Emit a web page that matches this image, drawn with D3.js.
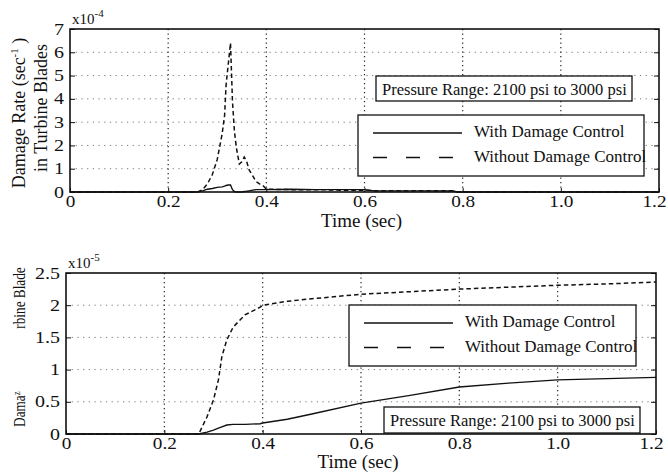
<!DOCTYPE html>
<html><head><meta charset="utf-8">
<script src="https://cdn.jsdelivr.net/npm/d3@7"></script>
<style>
body{margin:0;background:#fff}svg{display:block}
svg text{font-family:"Liberation Serif","DejaVu Serif",serif;fill:#111}
.xt text{transform-box:fill-box;transform-origin:50% 50%;transform:scaleX(1.2)}
.yt text{transform-box:fill-box;transform-origin:100% 50%;transform:scaleX(1.25)}
.narrow{transform-box:fill-box;transform-origin:50% 50%;transform:scaleX(0.78)}
</style>
</head><body>
<svg id="c" width="668" height="473"></svg>
<script>
// ---- data ----
const xTicks = [0, 0.2, 0.4, 0.6, 0.8, 1.0, 1.2];
const xTickLabels = ["0", "0.2", "0.4", "0.6", "0.8", "1.0", "1.2"];
const rateTicks = [0, 1, 2, 3, 4, 5, 6, 7];
const rateTickLabels = ["0", "1", "2", "3", "4", "5", "6", "7"];
const cumTicks = [0, 0.5, 1, 1.5, 2, 2.5];
const cumTickLabels = ["0", "0.5", "1", "1.5", "2", "2.5"];
const seriesNames = ["With Damage Control", "Without Damage Control"];

// damage rate (x1e-4 1/s)
const rateTime    = [0, 0.26, 0.27, 0.28, 0.29, 0.30, 0.31, 0.315, 0.318, 0.322, 0.327, 0.331, 0.335, 0.339, 0.345, 0.350, 0.355, 0.360, 0.365, 0.372, 0.379, 0.386, 0.392, 0.40, 0.45, 0.50, 0.55, 0.60, 0.62, 0.70, 0.78, 0.79, 1.2];
const rateWithout = [0, 0, 0.1, 0.35, 0.75, 1.4, 2.5, 3.3, 4.6, 5.4, 6.4, 3.9, 2.6, 1.9, 1.2, 1.3, 1.5, 1.3, 0.95, 0.7, 0.45, 0.35, 0.3, 0.12, 0.1, 0.1, 0.08, 0.08, 0.05, 0.05, 0.05, 0, 0];
const rateWith    = [0, 0, 0.05, 0.12, 0.15, 0.2, 0.22, 0.25, 0.28, 0.3, 0.3, 0.1, 0.02, 0, 0, 0, 0.02, 0.03, 0.05, 0.08, 0.1, 0.1, 0.1, 0.1, 0.12, 0.1, 0.1, 0.1, 0.05, 0.05, 0.04, 0, 0];

// cumulative damage (x1e-5)
const cumTime    = [0, 0.27, 0.287, 0.30, 0.31, 0.317, 0.327, 0.34, 0.364, 0.395, 0.40, 0.45, 0.50, 0.60, 0.70, 0.80, 0.90, 1.00, 1.10, 1.20];
const cumWithout = [0, 0, 0.27, 0.53, 0.84, 1.2, 1.46, 1.66, 1.85, 1.97, 2.0, 2.06, 2.1, 2.17, 2.21, 2.25, 2.28, 2.31, 2.33, 2.36];
const cumWith    = [0, 0, 0.03, 0.06, 0.09, 0.11, 0.14, 0.15, 0.15, 0.16, 0.17, 0.23, 0.31, 0.48, 0.6, 0.73, 0.79, 0.84, 0.86, 0.88];

const SERIF = "'Liberation Serif', 'DejaVu Serif', serif";
const svg = d3.select("#c");

function panel(o) {
  const x = d3.scaleLinear().domain([0, 1.2]).range([o.l, o.r]);
  const y = d3.scaleLinear().domain(o.yDom).range([o.b, o.t]);
  const g = svg.append("g");
  // grid
  g.selectAll(".hg").data(o.yTicks.slice(1, -1)).join("line")
    .attr("x1", o.l).attr("x2", o.r).attr("y1", d => y(d)).attr("y2", d => y(d))
    .attr("stroke", "#777").attr("stroke-width", 1).attr("stroke-dasharray", "1.2,4.5");
  g.selectAll(".vg").data(xTicks.slice(1, -1)).join("line")
    .attr("x1", d => x(d)).attr("x2", d => x(d)).attr("y1", o.t).attr("y2", o.b)
    .attr("stroke", "#222").attr("stroke-width", 1.2).attr("stroke-dasharray", "1.3,3.2");
  // series
  const lineGen = (ys) => d3.line().x((d, i) => x(o.time[i])).y(d => y(d))(ys);
  g.append("path").attr("d", lineGen(o.without)).attr("fill", "none")
    .attr("stroke", "#111").attr("stroke-width", 1.5).attr("stroke-dasharray", "4.5,3");
  g.append("path").attr("d", lineGen(o.with)).attr("fill", "none")
    .attr("stroke", "#111").attr("stroke-width", 1.4);
  // axes
  const ax = g.append("g").attr("class", "xt").attr("transform", `translate(0,${o.b})`)
    .call(d3.axisBottom(x).tickValues(xTicks).tickFormat((d, i) => xTickLabels[i]).tickSize(-4).tickPadding(4));
  ax.attr("font-family", SERIF).attr("font-size", 16);
  ax.select(".domain").remove();
  ax.selectAll("text").attr("y", 15).attr("dy", null)
    .attr("x", (d, i) => i === xTicks.length - 1 ? -5 : 0);
  ax.selectAll("line").attr("stroke", "#111");
  const ay = g.append("g").attr("class", "yt").attr("transform", `translate(${o.l},0)`)
    .call(d3.axisLeft(y).tickValues(o.yTicks).tickFormat((d, i) => o.yLabels[i]).tickSize(-5).tickPadding(6));
  ay.attr("font-family", SERIF).attr("font-size", 16);
  ay.select(".domain").remove();
  ay.selectAll("line").attr("stroke", "#111");
  const ar = g.append("g").attr("transform", `translate(${o.r},0)`)
    .call(d3.axisRight(y).tickValues(o.yTicks).tickFormat("").tickSize(-5));
  ar.select(".domain").remove();
  ar.selectAll("line").attr("stroke", "#111");
  g.append("rect").attr("x", o.l).attr("y", o.t).attr("width", o.r - o.l).attr("height", o.b - o.t)
    .attr("fill", "none").attr("stroke", "#111").attr("stroke-width", 1.6);
  // multiplier
  const m = g.append("text").attr("x", o.l + 2).attr("y", o.t - 5).attr("font-family", SERIF).attr("font-size", 15);
  m.append("tspan").text("x10");
  m.append("tspan").attr("dy", -7).attr("font-size", 11).text(o.exp);
  // x label
  g.append("text").attr("x", x(0.6) - 3).attr("y", o.b + o.tlab).attr("text-anchor", "middle")
    .attr("font-family", SERIF).attr("font-size", 19).text("Time (sec)");
  // pressure box
  const pb = o.pbox;
  g.append("rect").attr("x", pb[0]).attr("y", pb[1]).attr("width", pb[2]).attr("height", pb[3])
    .attr("fill", "#fff").attr("stroke", "#111").attr("stroke-width", 1.3);
  g.append("text").attr("x", pb[0] + 6).attr("y", pb[1] + 19).attr("font-family", SERIF).attr("font-size", 16.5)
    .text("Pressure Range: 2100 psi to 3000 psi");
  // legend
  const lb = o.lbox;
  g.append("rect").attr("x", lb[0]).attr("y", lb[1]).attr("width", lb[2]).attr("height", lb[3])
    .attr("fill", "#fff").attr("stroke", "#111").attr("stroke-width", 1.3);
  const lineRows = [lb[1] + 18, lb[1] + 42.5];
  const textRows = [lb[1] + 22, lb[1] + 47];
  seriesNames.forEach((nm, i) => {
    g.append("line").attr("x1", lb[0] + 15).attr("x2", lb[0] + (i ? 96 : 104)).attr("y1", lineRows[i]).attr("y2", lineRows[i])
      .attr("stroke", "#111").attr("stroke-width", 1.3).attr("stroke-dasharray", i ? "14,19" : null);
    g.append("text").attr("x", lb[0] + 116).attr("y", textRows[i]).attr("font-family", SERIF).attr("font-size", 17).text(nm);
  });
  return g;
}

panel({l: 70, r: 659, t: 29, b: 192, yDom: [0, 7], yTicks: rateTicks, yLabels: rateTickLabels, exp: "-4",
  time: rateTime, with: rateWith, without: rateWithout, tlab: 35,
  pbox: [376, 76, 256, 25], lbox: [358, 115, 286, 61]});
panel({l: 66, r: 656, t: 273, b: 434, yDom: [0, 2.5], yTicks: cumTicks, yLabels: cumTickLabels, exp: "-5",
  time: cumTime, with: cumWith, without: cumWithout, tlab: 34,
  pbox: [384, 407, 256, 26], lbox: [349, 305, 287, 61]});

// y-axis titles
const t1 = svg.append("text").attr("transform", "translate(25,113) rotate(-90)").attr("text-anchor", "middle").attr("font-family", SERIF).attr("font-size", 18);
t1.append("tspan").text("Damage Rate (sec");
t1.append("tspan").attr("dy", -7).attr("font-size", 11).text("-1");
t1.append("tspan").attr("dy", 7).text(" )");
svg.append("text").attr("transform", "translate(47,108) rotate(-90)").attr("text-anchor", "middle").attr("font-family", SERIF).attr("font-size", 18).text("in Turbine Blades");
svg.append("g").attr("transform", "translate(25,298) rotate(-90)")
  .append("text").attr("class", "narrow").attr("text-anchor", "middle").attr("font-family", SERIF).attr("font-size", 17).text("rbine Blade");
const t3 = svg.append("g").attr("transform", "translate(25,432) rotate(-90)")
  .append("text").attr("class", "narrow").attr("text-anchor", "start").attr("font-family", SERIF).attr("font-size", 17);
t3.append("tspan").text("Dama");
t3.append("tspan").attr("dy", -5).attr("font-size", 11).text("z");
</script>
</body></html>
